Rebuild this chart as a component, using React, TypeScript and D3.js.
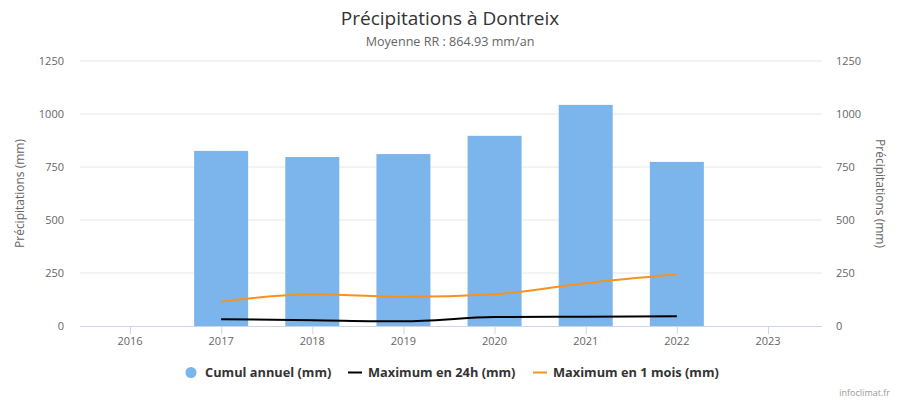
import React from "react";
import * as d3 from "d3";

const years = ["2016", "2017", "2018", "2019", "2020", "2021", "2022", "2023"];
const cumulYears = ["2017", "2018", "2019", "2020", "2021", "2022"];
const cumulAnnuel = [826, 797, 811, 897, 1043, 774];
const max24h = [32, 27, 22, 42, 44, 46];
const max1mois = [115, 150, 138, 150, 202, 244];
const yTicks = [0, 250, 500, 750, 1000, 1250];

const W = 900;
const H = 400;
const plotLeft = 80;
const plotRight = 822;
const plotTop = 61;
const plotBottom = 326;
const font = "'Open Sans', 'DejaVu Sans', sans-serif";

export default function App() {
  const x = d3.scalePoint<string>().domain(years).range([130, 768]);
  const y = d3.scaleLinear().domain([0, 1250]).range([plotBottom, plotTop]);
  const barW = 54;

  const line = d3
    .line<{ k: string; v: number }>()
    .x((d) => x(d.k) as number)
    .y((d) => y(d.v))
    .curve(d3.curveMonotoneX);

  const d24 = line(cumulYears.map((k, i) => ({ k, v: max24h[i] }))) || "";
  const d1m = line(cumulYears.map((k, i) => ({ k, v: max1mois[i] }))) || "";

  return (
    <svg
      width={W}
      height={H}
      style={{ position: "absolute", left: 0, top: 0, fontFamily: font }}
    >
      <rect x={0} y={0} width={W} height={H} fill="#ffffff" />
      <text x={450} y={25} textAnchor="middle" fontSize={19} fill="#333333">
        Précipitations à Dontreix
      </text>
      <text x={450} y={46} textAnchor="middle" fontSize={12.6} fill="#666666">
        Moyenne RR : 864.93 mm/an
      </text>

      {yTicks.map((t) => (
        <g key={t}>
          {t !== 0 && (
            <line
              x1={plotLeft}
              x2={plotRight}
              y1={y(t)}
              y2={y(t)}
              stroke="#e6e6e6"
              strokeWidth={1}
            />
          )}
          <text
            x={64}
            y={y(t) + 4}
            textAnchor="end"
            fontSize={11}
            fill="#666666"
          >
            {t}
          </text>
          <text
            x={836}
            y={y(t) + 4}
            textAnchor="start"
            fontSize={11}
            fill="#666666"
          >
            {t}
          </text>
        </g>
      ))}

      <text
        transform={`translate(24, ${(plotTop + plotBottom) / 2}) rotate(-90)`}
        textAnchor="middle"
        fontSize={12}
        fill="#666666"
      >
        Précipitations (mm)
      </text>
      <text
        transform={`translate(876, ${(plotTop + plotBottom) / 2}) rotate(90)`}
        textAnchor="middle"
        fontSize={12}
        fill="#666666"
      >
        Précipitations (mm)
      </text>

      {cumulYears.map((k, i) => (
        <rect
          key={k}
          x={(x(k) as number) - barW / 2}
          y={y(cumulAnnuel[i])}
          width={barW}
          height={plotBottom - y(cumulAnnuel[i])}
          fill="#7cb5ec"
        />
      ))}

      <line
        x1={plotLeft}
        x2={plotRight}
        y1={plotBottom + 0.5}
        y2={plotBottom + 0.5}
        stroke="#ccd6eb"
        strokeWidth={1}
      />
      {years.map((k) => (
        <g key={k}>
          <line
            x1={(x(k) as number) + 0.5}
            x2={(x(k) as number) + 0.5}
            y1={plotBottom}
            y2={plotBottom + 8}
            stroke="#ccd6eb"
          />
          <text
            x={x(k) as number}
            y={345}
            textAnchor="middle"
            fontSize={11}
            fill="#666666"
          >
            {k}
          </text>
        </g>
      ))}

      <path d={d1m} fill="none" stroke="#f4931d" strokeWidth={2} />
      <path d={d24} fill="none" stroke="#000000" strokeWidth={2} />

      <g fontSize={12.8} fontWeight="bold" fill="#333333">
        <circle cx={191} cy={372.5} r={5.5} fill="#7cb5ec" />
        <text x={205} y={377}>Cumul annuel (mm)</text>
        <line x1={348} x2={362} y1={372.5} y2={372.5} stroke="#000000" strokeWidth={2} />
        <text x={368} y={377}>Maximum en 24h (mm)</text>
        <line x1={533} x2={547} y1={372.5} y2={372.5} stroke="#f4931d" strokeWidth={2} />
        <text x={553} y={377}>Maximum en 1 mois (mm)</text>
      </g>

      <text x={890} y={396} textAnchor="end" fontSize={9} fill="#999999">
        infoclimat.fr
      </text>
    </svg>
  );
}
